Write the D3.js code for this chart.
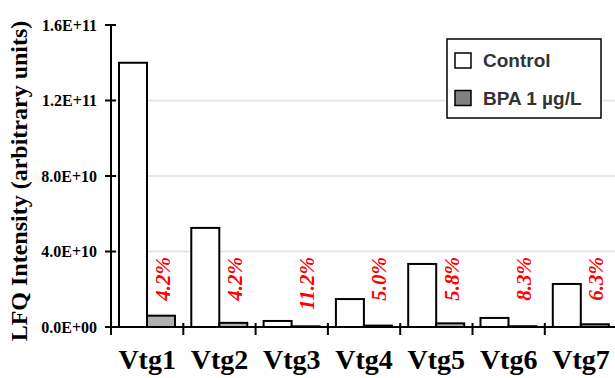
<!DOCTYPE html>
<html>
    <head>
        <meta charset="utf-8">
        <title>LFQ Intensity Vtg</title>
        <script src="https://cdnjs.cloudflare.com/ajax/libs/d3/7.8.5/d3.min.js"></script>
        <style>
            body { margin: 0; background: #fff; }
        </style>
    </head>
    <body>
        <div id="container"></div>

        <script>
            // Data
            var categories = ["Vtg1", "Vtg2", "Vtg3", "Vtg4", "Vtg5", "Vtg6", "Vtg7"];
            var control = [1.40e11, 5.25e10, 3.2e9, 1.48e10, 3.34e10, 4.8e9, 2.28e10];
            var bpa = [6.0e9, 2.2e9, 3.6e8, 7.4e8, 1.94e9, 4.0e8, 1.44e9];
            var pctLabels = ["4.2%", "4.2%", "11.2%", "5.0%", "5.8%", "8.3%", "6.3%"];
            var yTicks = [0, 4e10, 8e10, 1.2e11, 1.6e11];
            var yTickLabels = ["0.0E+00", "4.0E+10", "8.0E+10", "1.2E+11", "1.6E+11"];
            var seriesNames = ["Control", "BPA 1 \u00b5g/L"];

            var w = 615, h = 378;
            var x0 = 111, yBottom = 327, yTop = 25;
            var serif = "'Liberation Serif', 'Times New Roman', serif";

            var svg = d3.select("#container").append("svg")
                .attr("width", w)
                .attr("height", h);

            var x = d3.scaleBand()
                .domain(categories)
                .range([x0, x0 + 7 * 72.3]);

            var xs = d3.scaleBand()
                .domain(["c", "b"])
                .range([8, 64]);

            var y = d3.scaleLinear()
                .domain([0, 1.6e11])
                .range([yBottom, yTop]);

            // gridlines
            svg.selectAll("line.grid")
                .data(yTicks.filter(function(d) { return d > 0 && d < 1.6e11; }))
                .enter().append("line")
                .attr("x1", x0).attr("x2", w)
                .attr("y1", function(d) { return y(d); })
                .attr("y2", function(d) { return y(d); })
                .attr("stroke", "#e0e0e0")
                .attr("stroke-width", 1.5);

            // bars
            var g = svg.selectAll("g.cat")
                .data(categories)
                .enter().append("g")
                .attr("transform", function(d) { return "translate(" + x(d) + ",0)"; });

            g.append("rect")
                .attr("x", xs("c"))
                .attr("width", xs.bandwidth())
                .attr("y", function(d, i) { return y(control[i]); })
                .attr("height", function(d, i) { return yBottom - y(control[i]); })
                .attr("fill", "#fff")
                .attr("stroke", "#000")
                .attr("stroke-width", 2);

            g.append("rect")
                .attr("x", xs("b"))
                .attr("width", xs.bandwidth())
                .attr("y", function(d, i) { return y(bpa[i]); })
                .attr("height", function(d, i) { return yBottom - y(bpa[i]); })
                .attr("fill", "#b0b0b0")
                .attr("stroke", "#000")
                .attr("stroke-width", 2);

            // percent labels
            g.append("text")
                .attr("transform", "translate(58.5," + 257 + ") rotate(-90)")
                .attr("text-anchor", "end")
                .style("font-family", serif)
                .style("font-size", "21px")
                .style("font-weight", "bold")
                .style("font-style", "italic")
                .attr("fill", "#ff0000")
                .text(function(d, i) { return pctLabels[i]; });

            // x axis
            svg.append("line")
                .attr("x1", x0).attr("x2", w)
                .attr("y1", yBottom).attr("y2", yBottom)
                .attr("stroke", "#000").attr("stroke-width", 2);

            svg.selectAll("line.xtick")
                .data(categories)
                .enter().append("line")
                .attr("x1", function(d) { return x(d); })
                .attr("x2", function(d) { return x(d); })
                .attr("y1", yBottom - 4).attr("y2", yBottom + 8)
                .attr("stroke", "#000").attr("stroke-width", 2);

            svg.selectAll("text.xlab")
                .data(categories)
                .enter().append("text")
                .attr("x", function(d) { return x(d) + x.bandwidth() / 2; })
                .attr("y", 369)
                .attr("text-anchor", "middle")
                .style("font-family", serif)
                .style("font-size", "28px")
                .style("font-weight", "bold")
                .text(function(d) { return d; });

            // y axis
            svg.append("line")
                .attr("x1", x0).attr("x2", x0)
                .attr("y1", yTop).attr("y2", yBottom)
                .attr("stroke", "#000").attr("stroke-width", 2);

            svg.selectAll("line.ytick")
                .data(yTicks)
                .enter().append("line")
                .attr("x1", x0 - 6).attr("x2", x0 + 5)
                .attr("y1", function(d) { return y(d); })
                .attr("y2", function(d) { return y(d); })
                .attr("stroke", "#000").attr("stroke-width", 2);

            svg.selectAll("text.ylab")
                .data(yTicks)
                .enter().append("text")
                .attr("x", 97)
                .attr("y", function(d) { return y(d); })
                .attr("dy", "0.35em")
                .attr("text-anchor", "end")
                .style("font-family", serif)
                .style("font-size", "16px")
                .style("font-weight", "bold")
                .text(function(d, i) { return yTickLabels[i]; });

            svg.append("text")
                .attr("transform", "translate(27,181) rotate(-90)")
                .attr("text-anchor", "middle")
                .style("font-family", serif)
                .style("font-size", "24px")
                .style("font-weight", "bold")
                .text("LFQ Intensity (arbitrary units)");

            // legend
            var leg = svg.append("g");
            leg.append("rect")
                .attr("x", 447).attr("y", 39)
                .attr("width", 154).attr("height", 79)
                .attr("fill", "#fff")
                .attr("stroke", "#000").attr("stroke-width", 1.5);

            var legFill = ["#fff", "#808080"];
            var li = leg.selectAll("g.li")
                .data(seriesNames)
                .enter().append("g")
                .attr("transform", function(d, i) { return "translate(455," + (53 + i * 37.5) + ")"; });

            li.append("rect")
                .attr("width", 16).attr("height", 15)
                .attr("fill", function(d, i) { return legFill[i]; })
                .attr("stroke", "#000").attr("stroke-width", 1.5);

            li.append("text")
                .attr("x", 28).attr("y", 14)
                .style("font-family", "'Liberation Sans', Arial, sans-serif")
                .style("font-size", "19px")
                .style("font-weight", "bold")
                .attr("fill", "#333")
                .text(function(d) { return d; });
        </script>
    </body>
</html>
